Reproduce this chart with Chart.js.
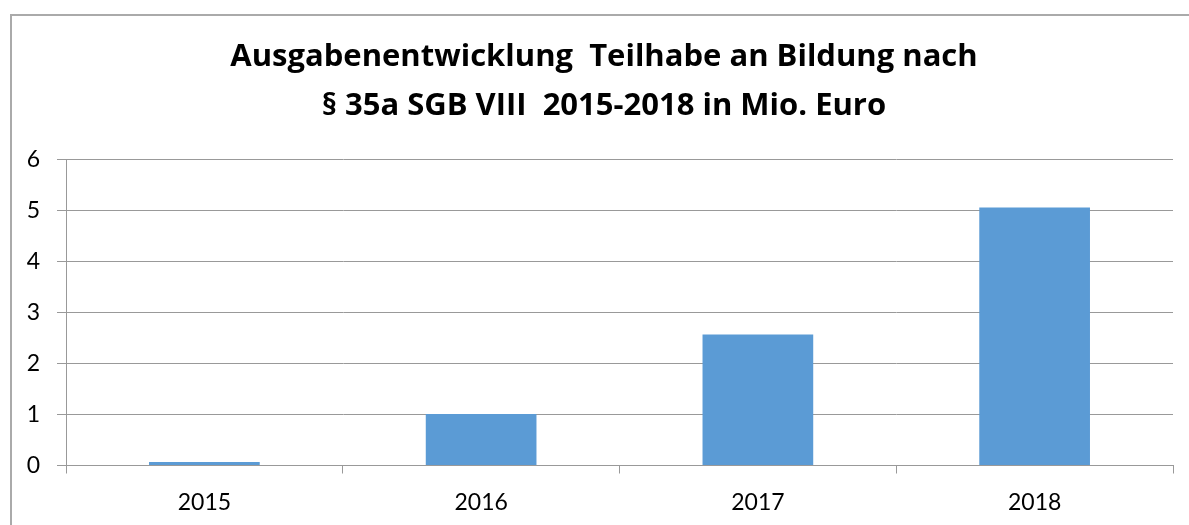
<!DOCTYPE html>
<html>
<head>
<meta charset="utf-8">
<script src="https://cdn.jsdelivr.net/npm/chart.js@4"></script>
<style>
  body { margin: 0; background: #fff; }
  #wrap { position: relative; width: 1189px; height: 525px; overflow: hidden; }
  #frame { position: absolute; left: 10px; top: 14px; width: 1200px; height: 600px; border: 2px solid #aaa; box-sizing: border-box; }
  #chart { position: absolute; left: 0; top: 0; }
</style>
</head>
<body>
<div id="wrap">
  <div id="frame"></div>
  <canvas id="chart" width="1189" height="525"></canvas>
</div>
<script>
var years = ['2015', '2016', '2017', '2018'];
var spending = [0.07, 1.01, 2.57, 5.06]; // Mio. Euro
var yTicks = [0, 1, 2, 3, 4, 5, 6];
var titleLines = ['Ausgabenentwicklung  Teilhabe an Bildung nach', '§ 35a SGB VIII  2015-2018 in Mio. Euro'];

var data = {
  labels: years,
  datasets: [
    {
      data: spending,
      backgroundColor: '#5B9BD5',
      borderWidth: 0,
      categoryPercentage: 1,
      barPercentage: 0.4
    }
  ]
};

// title centred on the framed box, not on the canvas
var boxTitle = {
  id: 'boxTitle',
  afterDraw: function(chart) {
    var c = chart.ctx;
    c.save();
    c.fillStyle = '#000';
    c.font = 'bold 31px "Open Sans"';
    c.textAlign = 'center';
    c.textBaseline = 'middle';
    c.fillText(titleLines[0], 604, 57.5);
    c.fillText(titleLines[1], 604, 106.5);
    c.restore();
  }
};

var options = {
  responsive: false,
  animation: false,
  devicePixelRatio: 1,
  layout: {
    padding: { left: 0, right: 16, top: 159.5, bottom: 0 }
  },
  plugins: {
    legend: { display: false },
    tooltip: { enabled: false },
    title: { display: false }
  },
  scales: {
    x: {
      grid: {
        display: true,
        drawOnChartArea: false,
        drawTicks: true,
        tickLength: 8,
        color: '#999',
        offset: true
      },
      border: { display: true, color: '#999', width: 1 },
      ticks: {
        color: '#000',
        font: { family: 'Lato', size: 23 },
        padding: 15
      },
      afterFit: function(scale) { scale.height = 59.5; }
    },
    y: {
      min: 0,
      max: 6,
      afterBuildTicks: function(scale) {
        scale.ticks = yTicks.map(function(v) { return { value: v }; });
      },
      grid: {
        color: '#999',
        drawTicks: true,
        tickLength: 9
      },
      border: { display: true, color: '#999', width: 1 },
      ticks: {
        color: '#000',
        font: { family: 'Lato', size: 23 },
        padding: 17
      },
      afterFit: function(scale) { scale.width = 66; }
    }
  }
};

var ctx = document.getElementById('chart');
var myChart = new Chart(ctx, {
  type: 'bar',
  data: data,
  options: options,
  plugins: [boxTitle]
});
</script>
</body>
</html>
